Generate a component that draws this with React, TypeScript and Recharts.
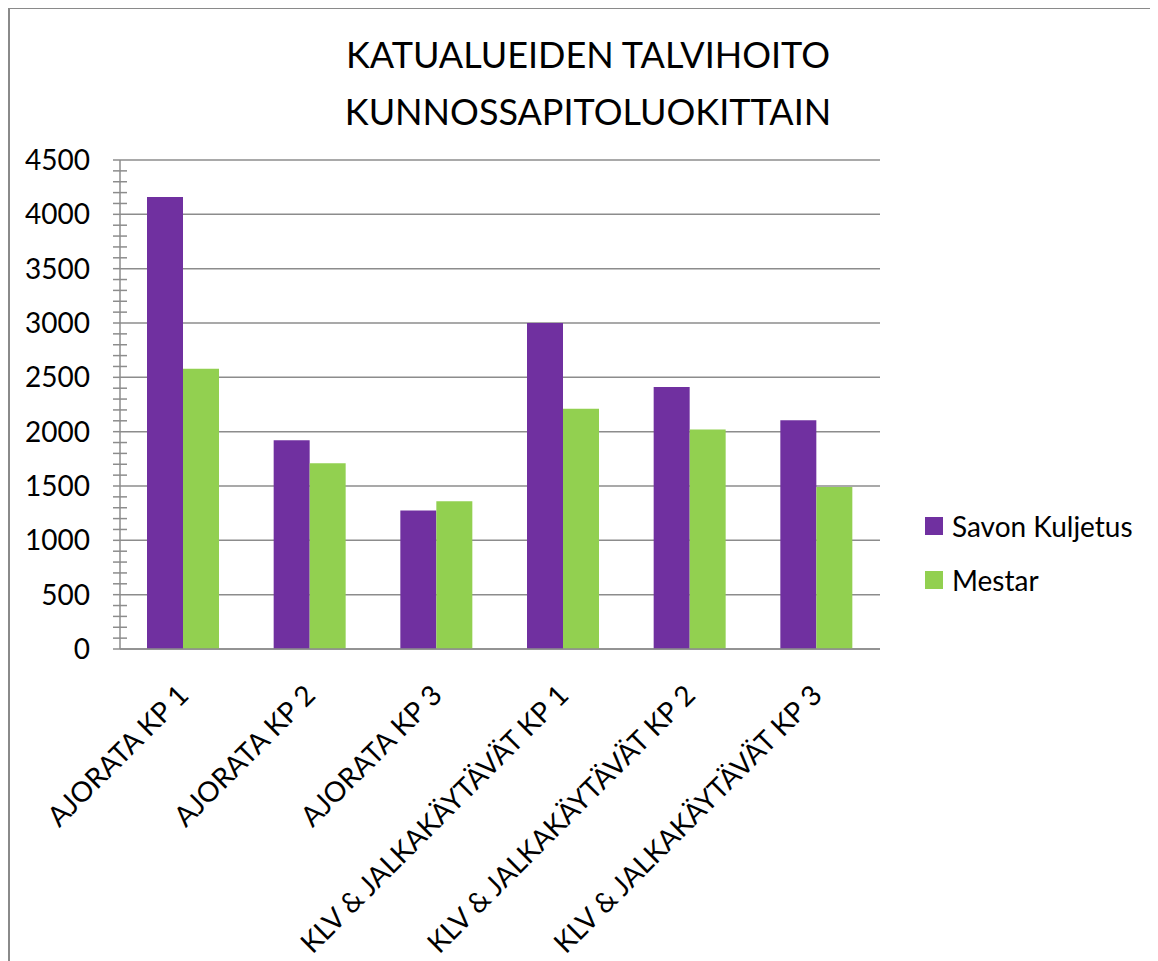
import React from 'react';
import { BarChart, Bar, XAxis, YAxis, CartesianGrid, Legend } from 'recharts';

const categories = [
  'AJORATA KP 1',
  'AJORATA KP 2',
  'AJORATA KP 3',
  'KLV & JALKAKÄYTÄVÄT KP 1',
  'KLV & JALKAKÄYTÄVÄT KP 2',
  'KLV & JALKAKÄYTÄVÄT KP 3',
];
const seriesNames = ['Savon Kuljetus', 'Mestar'];
const savonKuljetus = [4160, 1920, 1275, 3000, 2410, 2105];
const mestar = [2580, 1710, 1360, 2210, 2020, 1490];
const majorTicks = [0, 500, 1000, 1500, 2000, 2500, 3000, 3500, 4000, 4500];
const minorStep = 100;

const allTicks: number[] = [];
for (let v = 0; v <= majorTicks[majorTicks.length - 1]; v += minorStep) allTicks.push(v);

const data = categories.map((name, i) => ({
  name,
  savon: savonKuljetus[i],
  mestar: mestar[i],
}));

const FONT = 'Lato, "Open Sans", "DejaVu Sans", sans-serif';
const AXIS = '#8c8c8c';

const XTick = (props: any) => {
  const { x, y, payload } = props;
  const tx = x + 7;
  const ty = y + 48;
  return (
    <text
      x={tx}
      y={ty}
      transform={`rotate(-45, ${tx}, ${ty})`}
      textAnchor="end"
      fontSize={28}
      fontFamily={FONT}
      fill="#000"
    >
      {payload.value}
    </text>
  );
};

const YTick = (props: any) => {
  const { x, y, payload } = props;
  const v = payload.value;
  if (majorTicks.includes(v)) {
    return (
      <g>
        <line x1={x - 7} x2={x} y1={y} y2={y} stroke={AXIS} strokeWidth={1.5} />
        <text x={x - 30} y={y + 10} textAnchor="end" fontSize={28} fontFamily={FONT} fill="#000">
          {v}
        </text>
      </g>
    );
  }
  return <line x1={x - 7} x2={x + 7} y1={y} y2={y} stroke={AXIS} strokeWidth={1.5} />;
};

const renderLegend = (props: any) => {
  const payload = [...(props.payload || [])].sort(
    (a: any, b: any) => seriesNames.indexOf(a.value) - seriesNames.indexOf(b.value)
  );
  return (
    <div>
      {payload.map((p: any) => (
        <div key={p.value} style={{ display: 'flex', alignItems: 'center', height: 54 }}>
          <span style={{ display: 'inline-block', width: 18, height: 18, background: p.color, marginRight: 9 }} />
          <span style={{ fontSize: 28, lineHeight: '28px', fontFamily: FONT, color: '#000', whiteSpace: 'nowrap' }}>
            {p.value}
          </span>
        </div>
      ))}
    </div>
  );
};

export default function App() {
  return (
    <div style={{ position: 'relative', width: 1150, height: 953, overflow: 'hidden', fontFamily: FONT }}>
      <div
        style={{
          position: 'absolute',
          left: 0,
          top: -1,
          width: 2000,
          height: 2000,
          borderLeft: '2px solid #8a8a8a',
          borderTop: '2px solid #8a8a8a',
          pointerEvents: 'none',
        }}
      />
      <div
        style={{
          position: 'absolute',
          left: 0,
          top: 18,
          width: 1160,
          textAlign: 'center',
          fontSize: 36,
          lineHeight: '57px',
          fontFamily: FONT,
          color: '#000',
        }}
      >
        KATUALUEIDEN TALVIHOITO
        <br />
        KUNNOSSAPITOLUOKITTAIN
      </div>
      <div style={{ position: 'absolute', left: 0, top: 0 }}>
        <BarChart
          width={1150}
          height={953}
          data={data}
          margin={{ top: 152, right: 278, bottom: 12, left: 0 }}
          barGap={0}
        >
          <CartesianGrid vertical={false} horizontalValues={majorTicks} stroke={AXIS} strokeWidth={1.5} />
          <XAxis
            dataKey="name"
            interval={0}
            height={300}
            tickLine={false}
            tickSize={0}
            tickMargin={0}
            axisLine={{ stroke: AXIS, strokeWidth: 1.5 }}
            tick={<XTick />}
          />
          <YAxis
            width={112}
            domain={[0, 4500]}
            ticks={allTicks}
            interval={0}
            tickLine={false}
            tickSize={0}
            tickMargin={0}
            axisLine={{ stroke: AXIS, strokeWidth: 1.5 }}
            tick={<YTick />}
          />
          <Legend
            layout="horizontal"
            align="center"
            verticalAlign="middle"
            wrapperStyle={{ left: 917, top: 491, width: 240 }}
            content={renderLegend}
          />
          <Bar dataKey="savon" name={seriesNames[0]} fill="#7030A0" barSize={36} isAnimationActive={false} />
          <Bar dataKey="mestar" name={seriesNames[1]} fill="#92D050" barSize={36} isAnimationActive={false} />
        </BarChart>
      </div>
    </div>
  );
}
